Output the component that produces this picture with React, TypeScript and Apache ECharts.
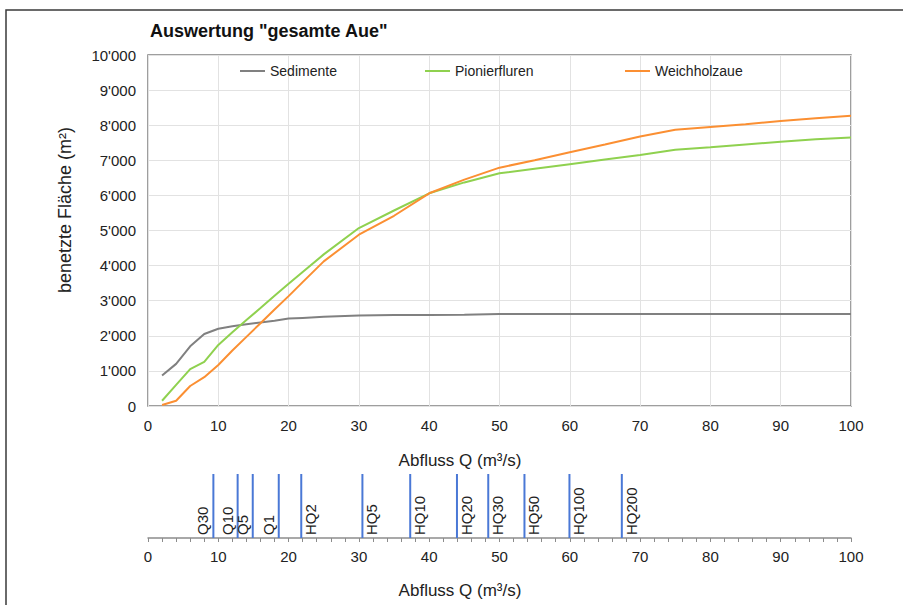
import React, { useEffect, useRef } from "react";
import * as echarts from "echarts";

const FONT = "'Liberation Sans', Arial, sans-serif";

const qValues = [2, 4, 6, 8, 10, 12, 14, 16, 18, 20, 22, 25, 30, 35, 40, 45, 50, 55, 60, 65, 70, 75, 80, 85, 90, 95, 100];
const sedimente = [870, 1200, 1700, 2050, 2200, 2270, 2330, 2380, 2430, 2490, 2510, 2540, 2580, 2590, 2590, 2600, 2620, 2620, 2620, 2620, 2620, 2620, 2620, 2620, 2620, 2620, 2620];
const pionierfluren = [150, 600, 1050, 1260, 1740, 2100, 2450, 2790, 3140, 3480, 3820, 4320, 5070, 5570, 6060, 6370, 6630, 6760, 6890, 7020, 7150, 7300, 7370, 7450, 7530, 7600, 7650];
const weichholzaue = [30, 150, 570, 820, 1170, 1580, 1970, 2360, 2750, 3130, 3530, 4120, 4880, 5420, 6060, 6450, 6790, 7000, 7230, 7450, 7680, 7870, 7950, 8030, 8120, 8200, 8270];

const hqValues = [9.3, 12.75, 14.9, 18.6, 21.8, 30.5, 37.3, 43.95, 48.4, 53.55, 59.95, 67.4];
const hqLabels = ["Q30", "Q10", "Q5", "Q1", "HQ2", "HQ5", "HQ10", "HQ20", "HQ30", "HQ50", "HQ100", "HQ200"];

const seriesNames = ["Sedimente", "Pionierfluren", "Weichholzaue"];
const seriesColors = ["#808080", "#8fd14f", "#fb8f32"];
const legendLefts = [240, 425, 625];

const fmtThousands = (v: number) => {
  if (v === 0) return "0";
  const k = Math.floor(v / 1000);
  const r = v % 1000;
  return `${k}'${String(r).padStart(3, "0")}`;
};

export default function App() {
  const ref = useRef<HTMLDivElement>(null);
  useEffect(() => {
    if (!ref.current) return;
    const chart = echarts.init(ref.current, undefined, { renderer: "svg" });
    const dataSets = [sedimente, pionierfluren, weichholzaue];
    const lineSeries = seriesNames.map((name, i) => ({
      name,
      type: "line",
      xAxisIndex: 0,
      yAxisIndex: 0,
      symbol: "none",
      data: qValues.map((q, j) => [q, dataSets[i][j]]),
      lineStyle: { color: seriesColors[i], width: 2 },
      itemStyle: { color: seriesColors[i] },
      z: 3,
    }));
    const option: any = {
      animation: false,
      backgroundColor: "#ffffff",
      textStyle: { fontFamily: FONT, color: "#222" },
      title: {
        text: 'Auswertung "gesamte Aue"',
        left: 150,
        top: 22,
        padding: 0,
        textStyle: { fontSize: 18, fontWeight: "bold", color: "#111", fontFamily: FONT },
      },
      legend: seriesNames.map((name, i) => ({
        data: [name],
        left: legendLefts[i],
        top: 64,
        padding: 0,
        icon: "rect",
        itemWidth: 25,
        itemHeight: 2,
        itemGap: 4,
        textStyle: { fontSize: 14, color: "#222", fontFamily: FONT },
        selectedMode: false,
      })),
      grid: [
        { left: 148, top: 55, width: 703, height: 351, show: true, borderColor: "#7f7f7f", borderWidth: 1.5, backgroundColor: "transparent" },
        { left: 148, top: 474, width: 703, height: 64 },
      ],
      xAxis: [
        {
          type: "value",
          gridIndex: 0,
          min: 0,
          max: 100,
          interval: 10,
          axisLine: { show: false },
          axisTick: { show: false },
          axisLabel: { margin: 12, fontSize: 15, color: "#222", fontFamily: FONT },
          splitLine: { show: true, lineStyle: { color: "#e2e2e2", width: 1 } },
        },
        {
          type: "value",
          gridIndex: 1,
          min: 0,
          max: 100,
          interval: 2,
          axisLine: { show: true, onZero: false, lineStyle: { color: "#8c8c8c", width: 1.5 } },
          axisTick: { show: true, length: 4, lineStyle: { color: "#8c8c8c" } },
          axisLabel: {
            margin: 11,
            fontSize: 15,
            color: "#222",
            fontFamily: FONT,
            interval: 0,
            hideOverlap: false,
            formatter: (v: number) => (Math.round(v) % 10 === 0 ? String(Math.round(v)) : ""),
          },
          splitLine: { show: false },
        },
      ],
      yAxis: [
        {
          type: "value",
          gridIndex: 0,
          min: 0,
          max: 10000,
          interval: 1000,
          axisLine: { show: false },
          axisTick: { show: false },
          axisLabel: { margin: 12, fontSize: 15, color: "#222", fontFamily: FONT, formatter: fmtThousands },
          splitLine: { show: true, lineStyle: { color: "#e2e2e2", width: 1 } },
        },
        { type: "value", gridIndex: 1, min: 0, max: 1, show: false },
      ],
      series: [
        ...lineSeries,
        {
          type: "custom",
          xAxisIndex: 1,
          yAxisIndex: 1,
          clip: false,
          data: hqValues.map((q, i) => [q, i]),
          renderItem: (_params: any, api: any) => {
            const q = api.value(0);
            const idx = api.value(1);
            const top = api.coord([q, 1]);
            const bot = api.coord([q, 0]);
            const label = hqLabels[idx];
            const right = label.startsWith("HQ");
            return {
              type: "group",
              children: [
                {
                  type: "line",
                  shape: { x1: top[0], y1: top[1], x2: bot[0], y2: bot[1] },
                  style: { stroke: "#4a78d6", lineWidth: 2 },
                },
                {
                  type: "text",
                  x: bot[0] + (right ? 2 : -3),
                  y: bot[1] - 3,
                  rotation: Math.PI / 2,
                  style: {
                    text: label,
                    fontSize: 15,
                    fontFamily: FONT,
                    fill: "#222",
                    align: "left",
                    verticalAlign: right ? "top" : "bottom",
                  },
                },
              ],
            };
          },
        },
      ],
      graphic: [
        {
          type: "rect",
          z: -10,
          shape: { x: 6, y: 10, width: 1000, height: 1000 },
          style: { fill: "none", stroke: "#3a3a3a", lineWidth: 1.5 },
        },
        {
          type: "text",
          x: 65,
          y: 210,
          rotation: Math.PI / 2,
          style: { text: "benetzte Fläche (m²)", fontSize: 18, fontFamily: FONT, fill: "#222", align: "center", verticalAlign: "middle" },
        },
        {
          type: "text",
          x: 460,
          y: 460,
          style: { text: "Abfluss Q (m³/s)", fontSize: 17, fontFamily: FONT, fill: "#222", align: "center", verticalAlign: "middle" },
        },
        {
          type: "text",
          x: 460,
          y: 590,
          style: { text: "Abfluss Q (m³/s)", fontSize: 17, fontFamily: FONT, fill: "#222", align: "center", verticalAlign: "middle" },
        },
      ],
    };
    chart.setOption(option);
    return () => chart.dispose();
  }, []);
  return (
    <div
      ref={ref}
      style={{ position: "fixed", left: 0, top: 0, width: 903, height: 605, background: "#fff" }}
    />
  );
}
